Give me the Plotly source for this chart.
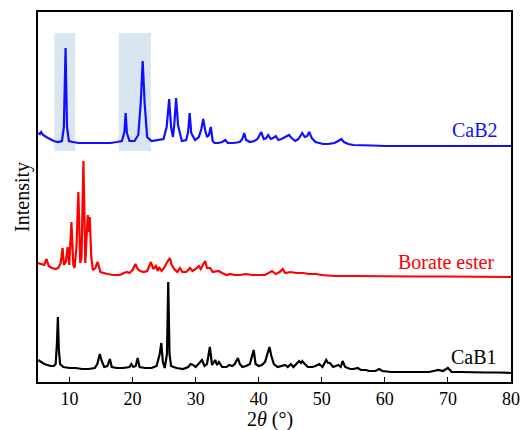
import plotly.graph_objects as go

# ---------------- data (2θ in degrees, intensity in a.u.) ----------------
cab1_2theta = [5.0, 5.5, 6.0, 6.5, 7.0, 7.5, 7.8, 8.0, 8.15, 8.3, 8.5, 9.0, 10, 11, 12, 13, 14, 14.4, 14.8, 15.1,
               15.5, 16.0, 16.4, 16.7, 17.5, 18.5, 19.5, 19.8, 20.1, 20.5, 20.8, 21.1, 22, 23, 23.8, 24.3, 24.55,
               24.8, 25.1, 25.45, 25.65, 25.85, 26.1, 26.5, 27, 28, 28.8, 29.2, 29.6, 30.0, 30.5, 31.0, 31.4, 31.8,
               32.25, 32.6, 32.8, 33.1, 33.4, 33.7, 34.2, 34.9, 35.3, 35.8, 36.2, 36.7, 37.0, 37.4, 38.0, 38.6, 39.2,
               39.5, 40.0, 40.5, 41.0, 41.4, 41.7, 42.0, 42.4, 43.0, 43.6, 44.2, 44.6, 45.1, 45.5, 46.0, 46.4, 46.7,
               46.9, 47.3, 47.8, 48.5, 49.0, 49.6, 50.1, 50.7, 51.0, 51.3, 51.8, 52.2, 52.6, 53.0, 53.3, 53.7, 54.5,
               55.0, 55.7, 56.2, 57.0, 57.5, 58.5, 59.1, 59.6, 61, 63, 65, 67, 68.5, 69.2, 70.0, 70.6, 72, 74, 76,
               78, 80]
cab1_int = [14, 12, 10, 9, 8, 8, 10, 30, 57, 25, 10, 7, 6, 6, 5, 5, 6, 10, 20, 13,
            7, 8, 15, 7, 6, 6, 7, 10, 7, 8, 16, 7, 6, 6, 8, 20, 31,
            12, 6, 20, 92, 20, 8, 7, 6, 5, 7, 10, 9, 7, 10, 14, 8, 10,
            27, 9, 11, 14, 9, 12, 7, 7, 9, 8, 10, 16, 10, 7, 8, 10, 24,
            10, 8, 9, 12, 22, 27, 18, 10, 7, 8, 9, 7, 10, 7, 10, 13, 11,
            13, 10, 7, 7, 8, 10, 7, 14, 11, 11, 7, 8, 9, 7, 13, 7, 5,
            5, 6, 4, 4, 3, 3, 5, 3, 2, 2, 2, 2, 4, 3, 6, 2, 2, 1.5, 1.5,
            1.5, 1]

borate_2theta = [5.0, 5.5, 6.0, 6.35, 6.7, 7.2, 7.8, 8.2, 8.6, 8.9, 9.1, 9.4, 9.7, 9.95, 10.3, 10.6, 10.8, 11.1,
                 11.4, 11.7, 11.9, 12.2, 12.5, 12.7, 12.9, 13.05, 13.2, 13.45, 13.7, 14.1, 14.45, 14.9, 15.3, 16,
                 17, 18, 18.6, 19.1, 19.5, 20.0, 20.45, 20.8, 21.2, 21.8, 22.3, 22.9, 23.3, 23.7, 24.0, 24.2, 24.6,
                 25.0, 25.4, 25.9, 26.2, 26.6, 27.1, 27.5, 27.9, 28.5, 29.1, 29.5, 30.0, 30.5, 30.8, 31.2, 31.5,
                 31.8, 32.3, 32.7, 33.6, 34.2, 34.9, 35.5, 36.2, 37, 38, 39, 40, 41, 42.1, 42.7, 43.3, 43.8, 44.2,
                 45, 46, 47, 48, 49, 50, 52, 55, 60, 65, 70, 75, 80]
borate_int = [14, 13, 12, 18, 11, 9, 8, 9, 14, 29, 12, 15, 30, 12, 55, 12, 9, 30,
              85, 14, 20, 116, 14, 40, 62, 45, 60, 20, 7, 9, 15, 5, 4, 3,
              2, 2, 4, 5, 4, 7, 13, 8, 6, 5, 6, 15, 8, 11, 6, 10, 6,
              9, 14, 19, 12, 8, 5, 9, 5, 5, 9, 6, 8, 11, 8, 13, 16,
              9, 9, 5, 6, 4, 2, 3, 2, 2, 3, 2, 2, 2, 6, 3, 5, 8, 4,
              5, 4, 4, 3, 3, 2, 1, 1, 0.5, 0.5, 0.5, 0, 0]

cab2_2theta = [5.0, 5.3, 5.5, 5.8, 6.3, 6.8, 7.5, 8.2, 8.8, 9.1, 9.37, 9.6, 9.9, 10.5, 11.5, 12.5, 13.5, 14.5,
               15.5, 16.5, 17.5, 18.3, 18.7, 18.9, 19.1, 19.5, 20.3, 20.9, 21.3, 21.6, 21.9, 22.3, 23.0, 24.0, 24.9,
               25.4, 25.8, 26.1, 26.4, 26.6, 26.9, 27.2, 27.8, 28.5, 28.8, 29.05, 29.3, 29.9, 30.5, 30.9, 31.2,
               31.5, 31.8, 32.1, 32.4, 32.7, 33.0, 33.6, 34.2, 34.7, 35.1, 36, 37.0, 37.4, 37.7, 38.0, 38.6, 39.3,
               39.8, 40.4, 40.8, 41.2, 41.5, 41.9, 42.3, 42.7, 43.1, 43.6, 44.3, 44.8, 45.2, 45.8, 46.3, 46.9,
               47.3, 47.7, 48.0, 48.4, 49.0, 49.6, 50.2, 51.0, 52.0, 52.6, 53.1, 53.5, 54.2, 55, 56, 57, 58, 60,
               65, 70, 75, 80]
cab2_int = [14, 13, 15, 12, 10, 8, 6, 5, 6, 20, 99, 20, 6, 5, 4, 4, 4, 4,
            4, 4, 5, 6, 15, 34, 14, 6, 6, 12, 45, 86, 45, 10, 6, 7, 8,
            20, 48, 20, 10, 22, 49, 22, 6, 7, 15, 34, 14, 7, 10, 18, 28,
            17, 10, 12, 20, 6, 4, 4, 5, 7, 4, 4, 5, 8, 14, 7, 5, 6,
            8, 15, 8, 9, 12, 8, 9, 11, 7, 8, 10, 12, 9, 6, 8, 14,
            10, 11, 15, 9, 5, 4, 3, 3, 4, 6, 8, 5, 3, 2, 2, 2, 1.5, 1,
            1, 1, 1, 1]

series_names = ["CaB1", "Borate ester", "CaB2"]
series_offsets = [8, 105, 235]
highlight_ranges = [(7.6, 10.9), (17.8, 22.9)]
x_ticks = [10, 20, 30, 40, 50, 60, 70, 80]

# ---------------- figure ----------------
FONT = "Liberation Serif"
colors = ["#000000", "#ff0000", "#1010ff"]
xs = [cab1_2theta, borate_2theta, cab2_2theta]
ys = [cab1_int, borate_int, cab2_int]

fig = go.Figure()

for (x0, x1) in highlight_ranges:
    fig.add_shape(type="rect", xref="x", yref="y", x0=x0, x1=x1, y0=231, y1=349,
                  fillcolor="#dae5f2", line_width=0, layer="below")

for name, x, y, off, c in zip(series_names, xs, ys, series_offsets, colors):
    fig.add_trace(go.Scatter(x=x, y=[v + off for v in y], mode="lines", name=name,
                             line=dict(color=c, width=2.2), showlegend=False))

label_pos = [(74.2, 25), (69.7, 120), (74.3, 252)]
for name, (lx, ly), c in zip(series_names, label_pos, colors):
    fig.add_annotation(x=lx, y=ly, text=name, showarrow=False,
                       font=dict(family=FONT, size=20, color=c), xanchor="center", yanchor="middle")

# axis titles
fig.add_annotation(xref="paper", yref="paper", x=0.49, y=-0.100, text="2<i>θ</i> (°)", showarrow=False,
                   font=dict(family=FONT, size=20, color="black"), xanchor="center", yanchor="middle")
fig.add_annotation(xref="paper", yref="paper", x=-0.034, y=0.5, text="Intensity", showarrow=False,
                   textangle=-90, font=dict(family=FONT, size=20, color="black"),
                   xanchor="center", yanchor="middle")

fig.update_layout(
    width=526, height=430,
    margin=dict(l=38, r=15, t=12, b=48),
    plot_bgcolor="white", paper_bgcolor="white",
    font=dict(family=FONT, size=18, color="black"),
)
fig.update_xaxes(range=[5, 80], tickvals=x_ticks, ticks="inside", ticklen=5, tickwidth=1.2,
                 tickcolor="black", showline=True, linecolor="black", linewidth=1.5, mirror=True,
                 showgrid=False, zeroline=False, tickfont=dict(family=FONT, size=18), automargin=False)
fig.update_yaxes(range=[0, 370], showticklabels=False, ticks="", showline=True, linecolor="black",
                 linewidth=1.5, mirror=True, showgrid=False, zeroline=False, automargin=False)

fig.write_html("out.html")
